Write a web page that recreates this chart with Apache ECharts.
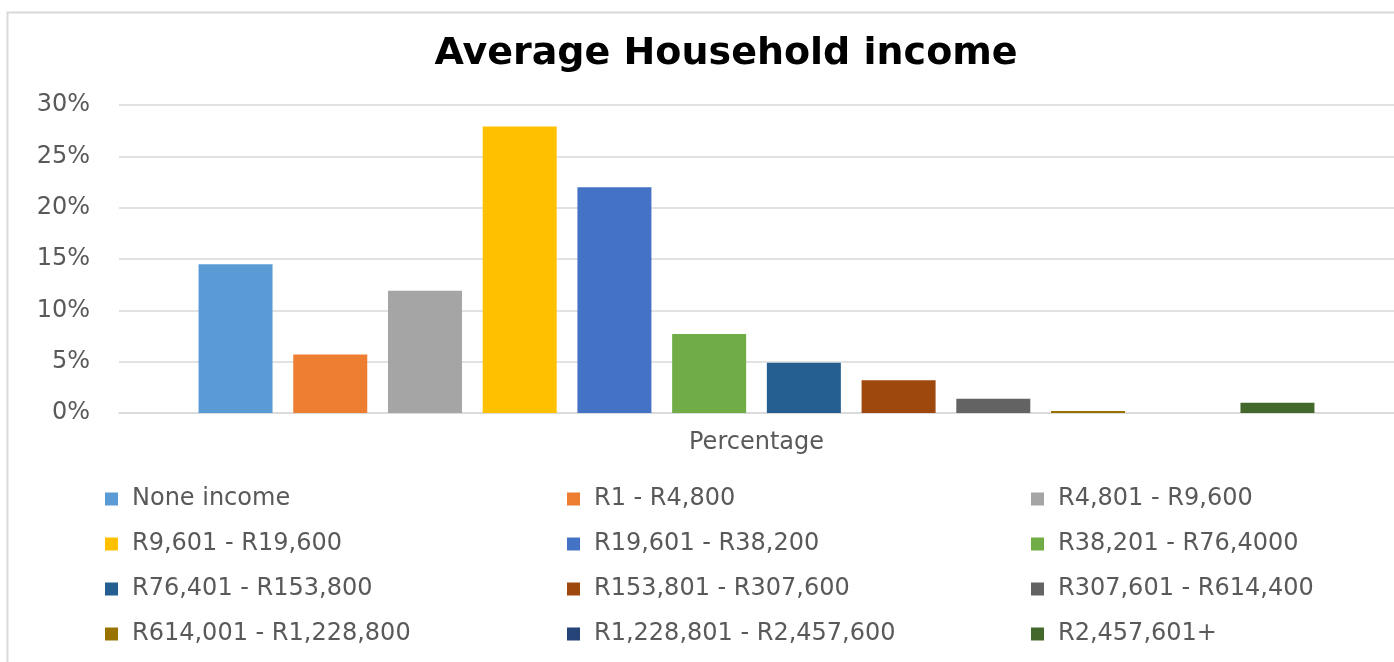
<!DOCTYPE html>
<html>
<head>
<meta charset="utf-8">
<script src="https://cdn.jsdelivr.net/npm/echarts@6/dist/echarts.min.js"></script>
<style>
  html, body { margin: 0; padding: 0; background: #fff; }
  #chart { width: 1394px; height: 662px; }
</style>
</head>
<body>
<div id="chart"></div>
<script>
// data
const categories = ['Percentage']
const seriesNames = [
  'None income', 'R1 - R4,800', 'R4,801 - R9,600',
  'R9,601 - R19,600', 'R19,601 - R38,200', 'R38,201 - R76,4000',
  'R76,401 - R153,800', 'R153,801 - R307,600', 'R307,601 - R614,400',
  'R614,001 - R1,228,800', 'R1,228,801 - R2,457,600', 'R2,457,601+'
]
const seriesValues = [14.5, 5.7, 11.9, 27.9, 22.0, 7.7, 4.9, 3.2, 1.4, 0.2, 0, 1.0]
const seriesColors = [
  '#5B9BD5', '#ED7D31', '#A5A5A5', '#FFC000', '#4472C4', '#70AD47',
  '#255E91', '#9E480E', '#636363', '#997300', '#264478', '#43682B'
]
const yTicks = [0, 5, 10, 15, 20, 25, 30]

const chart = echarts.init(document.getElementById('chart'))

const labelFont = 'DejaVu Sans'
const legendCol = (col, left) => ({
  orient: 'vertical',
  left: left,
  top: 482,
  itemWidth: 13,
  itemHeight: 13,
  itemGap: 21,
  icon: 'rect',
  textStyle: { fontFamily: labelFont, fontSize: 24, color: '#595959', padding: [0, 0, 0, 9] },
  data: seriesNames.filter((n, i) => i % 3 === col)
})

chart.setOption({
  animation: false,
  title: {
    text: 'Average Household income',
    left: 721,
    textAlign: 'center',
    top: 30,
    textStyle: { fontFamily: labelFont, fontWeight: 'bold', fontSize: 38, color: '#000' }
  },
  graphic: [{
    type: 'rect',
    shape: { x: 7.5, y: 12.5, width: 1400, height: 700 },
    style: { fill: 'none', stroke: '#d9d9d9', lineWidth: 2 },
    silent: true
  }],
  legend: [legendCol(0, 100), legendCol(1, 562), legendCol(2, 1026)],
  grid: { left: 119, right: 0, top: 105, bottom: 249 },
  xAxis: {
    type: 'category',
    data: categories,
    axisTick: { show: false },
    axisLine: { lineStyle: { color: '#d9d9d9', width: 1.5 } },
    axisLabel: { fontFamily: labelFont, fontSize: 24, color: '#595959', margin: 18 }
  },
  yAxis: {
    type: 'value',
    min: yTicks[0],
    max: yTicks[yTicks.length - 1],
    interval: 5,
    axisLine: { show: false },
    axisTick: { show: false },
    splitLine: { lineStyle: { color: '#d9d9d9', width: 1.5 } },
    axisLabel: {
      fontFamily: labelFont, fontSize: 24, color: '#595959', margin: 29,
      formatter: v => v + '%'
    }
  },
  series: seriesNames.map((name, i) => ({
    name: name,
    type: 'bar',
    data: [seriesValues[i]],
    barWidth: 74,
    barGap: '28%',
    itemStyle: { color: seriesColors[i] }
  }))
})
</script>
</body>
</html>
